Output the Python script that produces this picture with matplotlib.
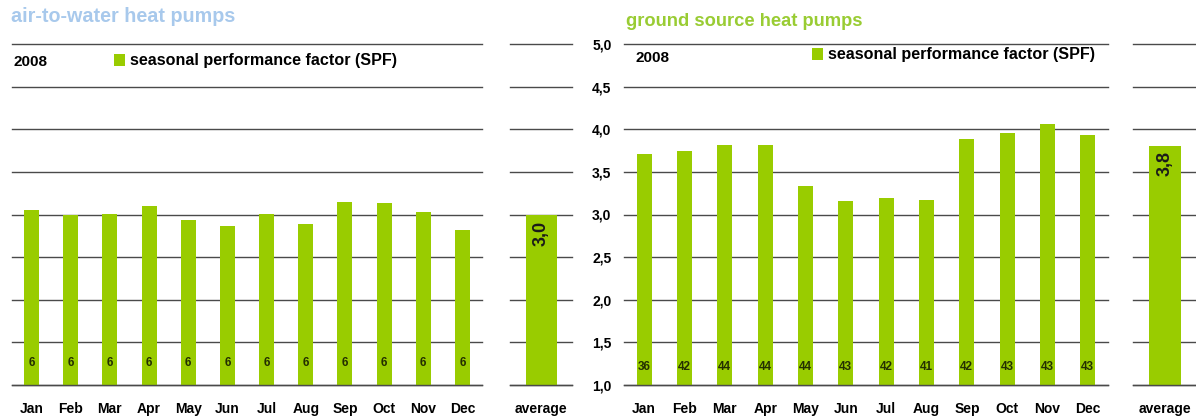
import numpy as np
import matplotlib.pyplot as plt

plt.rcParams['font.family'] = ['Liberation Sans', 'DejaVu Sans']
plt.rcParams['font.weight'] = 'bold'

months = ['Jan', 'Feb', 'Mar', 'Apr', 'May', 'Jun', 'Jul', 'Aug', 'Sep', 'Oct', 'Nov', 'Dec']

# air-to-water heat pumps, 2008
air_spf = [3.05, 3.00, 3.01, 3.10, 2.93, 2.87, 3.01, 2.89, 3.15, 3.13, 3.03, 2.82]
air_count = [6, 6, 6, 6, 6, 6, 6, 6, 6, 6, 6, 6]
air_avg = 3.0

# ground source heat pumps, 2008
ground_spf = [3.71, 3.75, 3.82, 3.81, 3.33, 3.16, 3.19, 3.17, 3.89, 3.96, 4.06, 3.93]
ground_count = [36, 42, 44, 44, 44, 43, 42, 41, 42, 43, 43, 43]
ground_avg = 3.8

yticks = [1.0, 1.5, 2.0, 2.5, 3.0, 3.5, 4.0, 4.5, 5.0]

GREEN = '#99cc00'
GRID = '#4a4a4a'
W, H = 1196, 418

fig = plt.figure(figsize=(W / 100, H / 100), dpi=100)


def px_axes(x0, x1, y0, y1):
    return fig.add_axes([x0 / W, 1 - y1 / H, (x1 - x0) / W, (y1 - y0) / H])


def style(ax, show_labels=False):
    ax.set_ylim(1, 5)
    ax.set_yticks(yticks)
    ax.yaxis.grid(True, color=GRID, lw=1.0)
    for gl in ax.get_ygridlines():
        gl.set_clip_on(False)
    ax.set_axisbelow(True)
    # baseline drawn over the bars
    ax.axhline(yticks[0], color=GRID, lw=1.0, zorder=3, clip_on=False)
    for s in ax.spines.values():
        s.set_visible(False)
    ax.tick_params(length=0)
    if show_labels:
        ax.set_yticklabels([f'{v:.1f}'.replace('.', ',') for v in yticks],
                           fontsize=10, fontweight='bold')
        ax.tick_params(axis='y', pad=9)
    else:
        ax.set_yticklabels([])


def month_panel(ax, spf, counts, count_y, show_labels):
    x = np.arange(len(months))
    bars = ax.bar(x, spf, width=0.38, color=GREEN, label='seasonal performance factor (SPF)')
    for xi, n in zip(x, counts):
        ax.text(xi, count_y, str(n), ha='center', va='center', fontsize=8.5,
                fontweight='bold', color='#243000')
    ax.set_xlim(-0.5, len(months) - 0.5)
    ax.set_xticks(x)
    ax.set_xticklabels(months, fontsize=10, fontweight='bold')
    ax.tick_params(axis='x', pad=12)
    style(ax, show_labels)
    return bars


def avg_panel(ax, value, text_top):
    ax.bar([0], [value], width=1.0, color=GREEN)
    ax.text(0, text_top, f'{value:.1f}'.replace('.', ','), rotation=90,
            ha='center', va='top', fontsize=13, fontweight='bold', color='#1a1a1a')
    ax.set_xlim(-1, 1)
    ax.set_xticks([0])
    ax.set_xticklabels(['average'], fontsize=10, fontweight='bold')
    ax.tick_params(axis='x', pad=12)
    style(ax)


# left: air-to-water
ax1 = px_axes(12, 482, 44, 385)
b1 = month_panel(ax1, air_spf, air_count, 1.26, False)
ax1a = px_axes(510, 572, 44, 385)
avg_panel(ax1a, air_avg, air_avg - 0.07)

# right: ground source
ax2 = px_axes(624, 1108, 44, 385)
b2 = month_panel(ax2, ground_spf, ground_count, 1.21, True)
ax2a = px_axes(1133, 1197, 44, 385)
avg_panel(ax2a, ground_avg, ground_avg - 0.05)

fig.text(11 / W, 1 - 17 / H, 'air-to-water heat pumps', fontsize=14.2,
         fontweight='bold', color='#a8c9ec', va='center', ha='left')
fig.text(626 / W, 1 - 21 / H, 'ground source heat pumps', fontsize=13.2,
         fontweight='bold', color='#99cc33', va='center', ha='left')

fig.text(13 / W, 1 - 62 / H, '2008', fontsize=11, fontweight='bold', va='center')
fig.text(635 / W, 1 - 58 / H, '2008', fontsize=11, fontweight='bold', va='center')

for bars, (lx, ly) in [(b1, (114, 61)), (b2, (812, 55))]:
    fig.legend(handles=[bars], loc='center left', bbox_to_anchor=(lx / W, 1 - ly / H),
               frameon=False, borderpad=0, borderaxespad=0, handlelength=0.7,
               handleheight=0.7, handletextpad=0.3,
               prop={'weight': 'bold', 'size': 11.6})

fig.savefig('out.png', dpi=100)
